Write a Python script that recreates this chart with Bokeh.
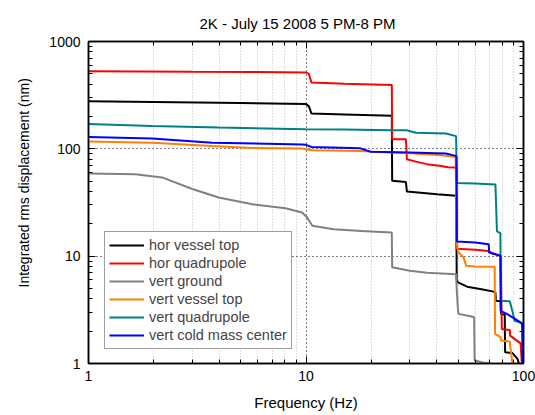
from bokeh.plotting import figure
from bokeh.models import (LogAxis, Range1d, Legend, LegendItem, FixedTicker, Title)
from bokeh.embed import file_html
from bokeh.resources import INLINE

FONT = "Liberation Sans"

title_text = "2K - July 15 2008 5 PM-8 PM"
x_label = "Frequency (Hz)"
y_label = "Integrated rms displacement (nm)"

x_major = [1, 10, 100]
x_minor = [2, 3, 4, 5, 6, 7, 8, 9, 20, 30, 40, 50, 60, 70, 80, 90]
y_major = [1, 10, 100, 1000]
y_minor = [2, 3, 4, 5, 6, 7, 8, 9, 20, 30, 40, 50, 60, 70, 80, 90,
           200, 300, 400, 500, 600, 700, 800, 900]
x_tick_labels = {1: "1", 10: "10", 100: "100"}
y_tick_labels = {1: "1", 10: "10", 100: "100", 1000: "1000"}

# hor vessel top
blk_f = [1, 5, 10.0, 10.3, 10.6, 15, 24.8, 24.9, 28.8, 29.1, 40, 49.1, 49.3, 50, 55, 65, 72,
         74.3, 74.6, 78.5, 78.8, 82, 82.3, 89, 94, 96.5]
blk_v = [277, 268, 261, 250, 213, 209, 203, 50.4, 49, 40, 37.8, 36.5, 6.0, 5.7, 5.2, 4.9, 4.7,
         4.6, 3.85, 3.8, 2.9, 2.85, 1.27, 1.25, 1.1, 0.9]
# hor quadrupole
red_f = [1, 3, 6, 10.0, 10.3, 10.6, 15, 24.8, 24.9, 28.8, 29.1, 32, 36, 41, 45, 49.1, 49.3,
         60, 69, 72, 78.5, 79.5, 86.5, 86.8, 97, 98.5]
red_v = [527, 522, 520, 515, 500, 414, 405, 394, 123, 123, 80, 76, 72, 69.5, 67.5, 67, 11.7,
         11.5, 11.2, 10.6, 10.1, 2.1, 2.05, 1.82, 1.54, 0.9]
# vert ground
gry_f = [1, 1.64, 2.18, 3.0, 3.97, 5.66, 8.04, 9.6, 10.1, 10.7, 13.4, 18, 24.8, 24.9, 30, 36,
         49.0, 49.3, 49.8, 50.2, 57, 59.3, 59.6, 65, 70, 72]
gry_v = [58.9, 58, 54.2, 42.2, 35.2, 30.5, 28, 25.5, 23, 19.2, 17.8, 17.2, 16.6, 7.87, 7.3, 7.0,
         6.8, 5.0, 3.5, 2.9, 2.75, 2.7, 1.07, 1.02, 1.01, 0.95]
# vert vessel top
org_f = [1, 1.96, 3.7, 5.66, 9.6, 10.6, 17.8, 19.8, 30, 42, 48.8, 49.2, 50, 53, 54.5, 60, 73.7,
         74.0, 78.5, 78.8, 86.5, 86.8, 88.0, 89.3]
org_v = [117, 114, 106, 102, 100.5, 97, 95.5, 94.5, 91, 87, 84, 13.9, 11.0, 9.75, 8.15, 8.0, 7.98,
         1.89, 1.76, 1.64, 1.6, 1.47, 1.2, 0.9]
# vert quadrupole
tel_f = [1, 1.96, 3.97, 9.94, 15, 24.9, 29, 32, 44, 48.5, 49.0, 49.3, 60, 74.3, 75.5, 78.3,
         78.6, 86.5, 89.5, 91, 98, 100]
tel_v = [170, 163, 158, 152, 151, 149, 149, 141, 139, 132, 131, 48, 47.5, 46.5, 17, 16.4,
         3.85, 3.8, 2.9, 2.5, 2.4, 2.3]
# vert cold mass center
blu_f = [1, 1.96, 3.7, 9.6, 10.0, 10.6, 17.8, 19.8, 30, 44, 48.8, 49.2, 49.4, 60, 69.2, 69.5,
         74.5, 78.3, 78.6, 85, 94.5, 98.5, 99.2]
blu_v = [129, 125, 114, 110, 109, 104, 101, 94, 92.4, 90.5, 86, 84, 13.7, 13.4, 12.9, 10.8,
         10.4, 10.1, 3.1, 2.85, 2.5, 2.34, 0.9]

series = [
    ("hor vessel top", blk_f, blk_v, "#000000"),
    ("hor quadrupole", red_f, red_v, "#ff0000"),
    ("vert ground", gry_f, gry_v, "#808080"),
    ("vert vessel top", org_f, org_v, "#ff8000"),
    ("vert quadrupole", tel_f, tel_v, "#008080"),
    ("vert cold mass center", blu_f, blu_v, "#0000ff"),
]

p = figure(width=535, height=415, x_axis_type="log", y_axis_type="log",
           x_range=Range1d(1, 100), y_range=Range1d(1, 1000),
           output_backend="svg", toolbar_location=None, title=title_text,
           min_border_left=88, min_border_right=12, min_border_top=41, min_border_bottom=52)

p.title.text_font = FONT
p.title.text_font_size = "15px"
p.title.text_font_style = "normal"
p.title.align = "left"
p.title.offset = 111
p.title.standoff = 20
p.title.text_color = "#000000"

xt = FixedTicker(ticks=x_major, minor_ticks=x_minor)
yt = FixedTicker(ticks=y_major, minor_ticks=y_minor)

for ax, tk, labels in ((p.xaxis[0], xt, x_tick_labels), (p.yaxis[0], yt, y_tick_labels)):
    ax.ticker = tk
    ax.major_label_overrides = labels
    ax.major_label_text_font = FONT
    ax.major_label_text_font_size = "14px"
    ax.major_label_text_color = "#000000"
    ax.axis_label_text_font = FONT
    ax.axis_label_text_font_style = "normal"
    ax.axis_label_text_color = "#000000"
    ax.major_tick_in = 7
    ax.major_tick_out = 0
    ax.minor_tick_in = 4
    ax.minor_tick_out = 0
    ax.axis_line_color = "#000000"
    ax.axis_line_width = 1.5
    ax.major_tick_line_color = "#000000"
    ax.minor_tick_line_color = "#000000"

p.xaxis.axis_label = x_label
p.xaxis.axis_label_text_font_size = "15px"
p.xaxis.major_label_standoff = 7
p.xaxis.axis_label_standoff = 10
p.yaxis.major_label_standoff = 8

# y-axis title: sits higher than the frame centre, as in the reference
ytitle = Title(text=y_label, align="left", offset=76, standoff=26, vertical_align="top",
               text_font=FONT, text_font_size="14px", text_font_style="normal",
               text_color="#000000")
p.add_layout(ytitle, "left")

for loc, tk in (("above", xt), ("right", yt)):
    a = LogAxis(ticker=tk, major_label_text_font_size="1px", major_label_text_alpha=0,
                major_label_standoff=0,
                major_tick_in=7, major_tick_out=0, minor_tick_in=4, minor_tick_out=0,
                axis_line_color="#000000", axis_line_width=1.5)
    p.add_layout(a, loc)

p.xgrid.ticker = xt
p.ygrid.ticker = yt
p.xgrid.grid_line_color = "#000000"
p.xgrid.grid_line_dash = "1 3"
p.xgrid.grid_line_width = 1
p.xgrid.minor_grid_line_color = "#c0c0c0"
p.xgrid.minor_grid_line_dash = "1 2"
p.ygrid.grid_line_color = "#000000"
p.ygrid.grid_line_dash = "1 3"
p.ygrid.minor_grid_line_color = None

p.outline_line_color = "#000000"
p.outline_line_width = 1.5
p.background_fill_color = "white"
p.border_fill_color = "white"

items = []
for name, f, v, c in series:
    r = p.line(f, v, line_color=c, line_width=2)
    items.append(LegendItem(label=name, renderers=[r]))

legend = Legend(items=items, location=(16, 14), glyph_width=35, glyph_height=18,
                label_height=18, spacing=0, padding=4, margin=0, label_standoff=5,
                label_text_font=FONT, label_text_font_size="14.5px",
                border_line_color="#404040", border_line_width=1,
                background_fill_color="white", background_fill_alpha=1)
p.add_layout(legend)

open("out.html", "w").write(file_html(p, INLINE))
